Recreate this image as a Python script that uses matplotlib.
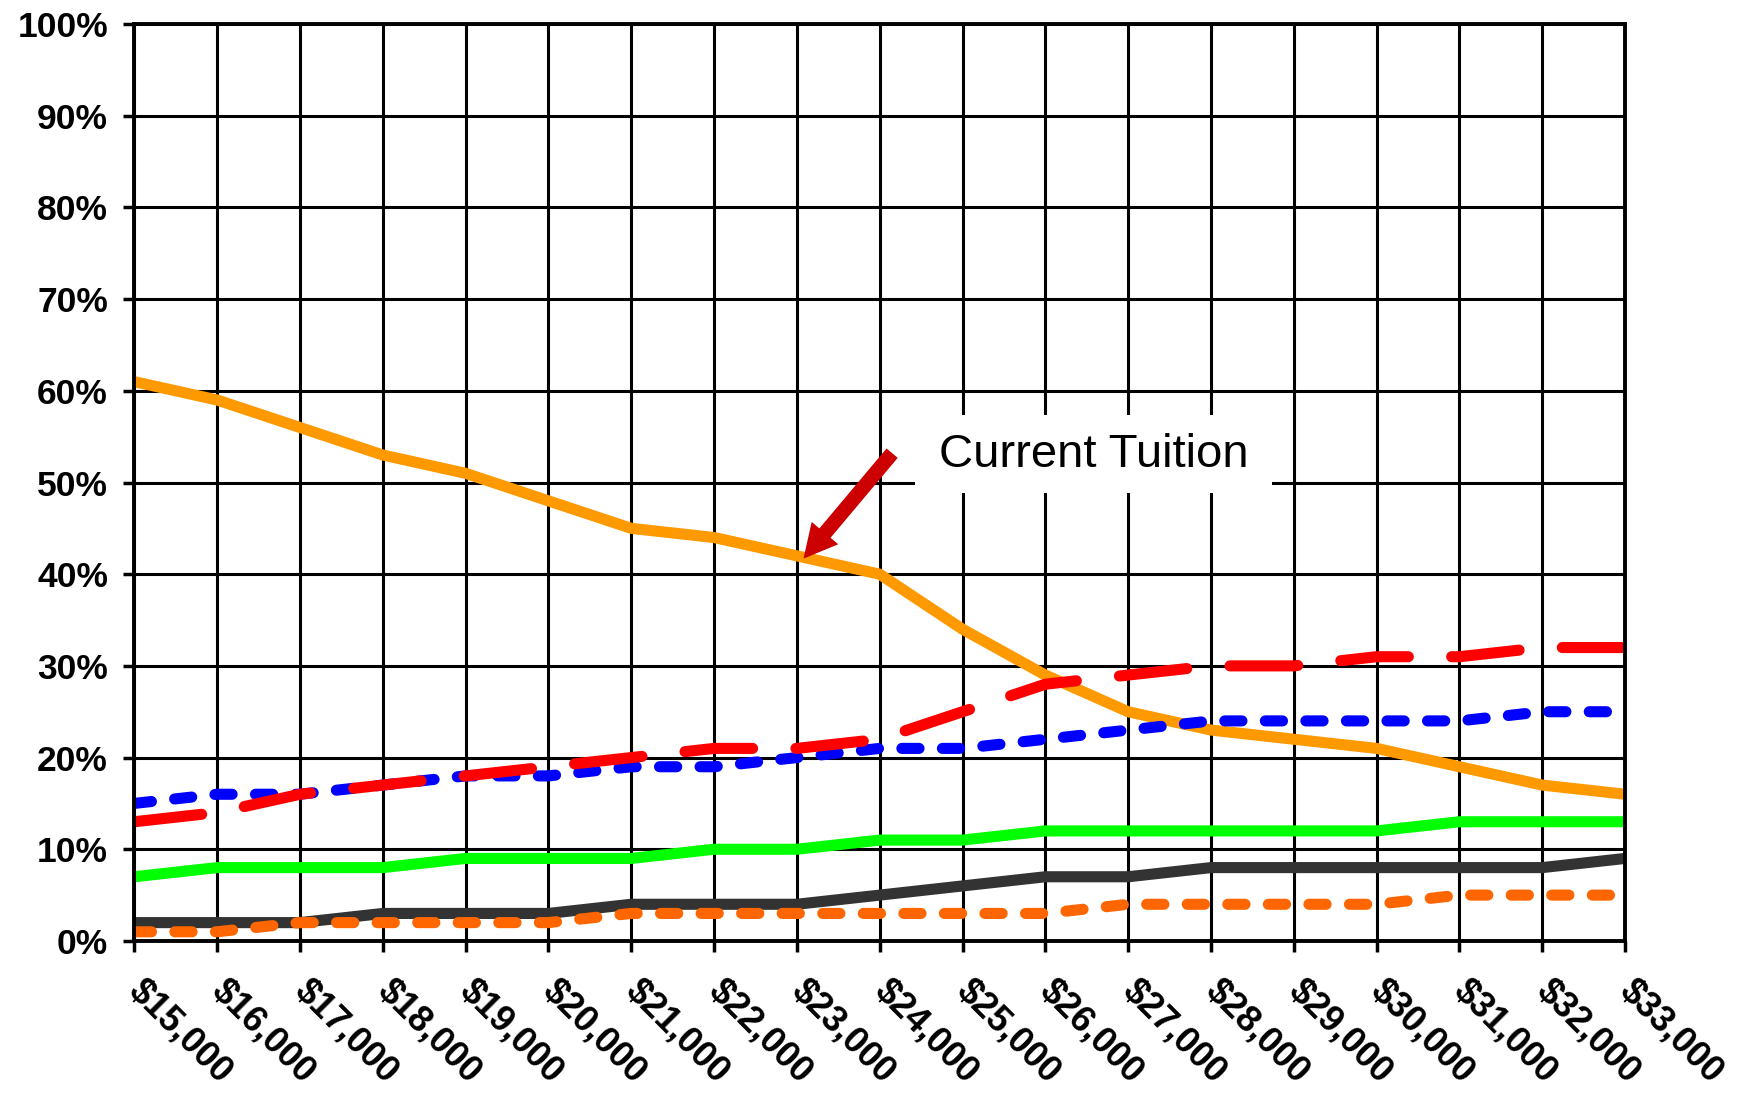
import matplotlib.pyplot as plt
import numpy as np

# tuition levels on the x axis
tuition = ['$15,000', '$16,000', '$17,000', '$18,000', '$19,000', '$20,000',
           '$21,000', '$22,000', '$23,000', '$24,000', '$25,000', '$26,000',
           '$27,000', '$28,000', '$29,000', '$30,000', '$31,000', '$32,000',
           '$33,000']

# percent values per series
orange_solid = [61, 59, 56, 53, 51, 48, 45, 44, 42, 40, 34, 29, 25, 23, 22, 21, 19, 17, 16]
red_dash = [13, 14, 16, 17, 18, 19, 20, 21, 21, 22, 25, 28, 29, 30, 30, 31, 31, 32, 32]
blue_dash = [15, 16, 16, 17, 18, 18, 19, 19, 20, 21, 21, 22, 23, 24, 24, 24, 24, 25, 25]
green_solid = [7, 8, 8, 8, 9, 9, 9, 10, 10, 11, 11, 12, 12, 12, 12, 12, 13, 13, 13]
dark_solid = [2, 2, 2, 3, 3, 3, 4, 4, 4, 5, 6, 7, 7, 8, 8, 8, 8, 8, 9]
orange_dash = [1, 1, 2, 2, 2, 2, 3, 3, 3, 3, 3, 3, 4, 4, 4, 4, 5, 5, 5]

y_ticks = list(range(0, 101, 10))
y_labels = ['%d%%' % v for v in y_ticks]

plt.rcParams['font.family'] = ['Liberation Sans', 'DejaVu Sans']

fig = plt.figure(figsize=(17.42, 10.94), dpi=100)
ax = fig.add_axes([0.0771, 0.1399, 0.8558, 0.8381])

x = np.arange(len(tuition))
lw = 8.0

ax.plot(x, dark_solid, color='#333333', lw=lw, solid_capstyle='butt', zorder=3)
ax.plot(x, orange_dash, color='#FF6600', lw=lw, dashes=(1.55, 2.1),
        dash_capstyle='round', zorder=3)
ax.plot(x, green_solid, color='#00FF00', lw=lw, solid_capstyle='butt', zorder=3)
ax.plot(x, orange_solid, color='#FF9900', lw=lw, solid_capstyle='butt', zorder=3)
ax.plot(x, blue_dash, color='#0000FF', lw=lw, dashes=(1.55, 2.1),
        dash_capstyle='round', zorder=3)
ax.plot(x, red_dash, color='#FF0000', lw=lw, dashes=(6.1, 3.9),
        dash_capstyle='round', zorder=3)

ax.set_xlim(0, len(tuition) - 1)
ax.set_ylim(0, 100)
ax.set_xticks(x)
ax.set_xticklabels(tuition, fontsize=26, fontweight='bold')
ax.set_yticks(y_ticks)
ax.set_yticklabels(y_labels, fontsize=25.5, fontweight='bold')
ax.grid(True, color='black', lw=2.2, zorder=1)
ax.set_axisbelow(True)
for s in ax.spines.values():
    s.set_linewidth(2.8)
    s.set_zorder(4)
ax.tick_params(axis='both', direction='out', length=8, width=2.5, color='black')
ax.tick_params(axis='y', pad=11)
ax.tick_params(axis='x', pad=24)
for lab in ax.get_xticklabels():
    lab.set_rotation(-45)
    lab.set_rotation_mode('anchor')
    lab.set_ha('left')
    lab.set_va('center')

# callout box + arrow
ax.add_patch(plt.Rectangle((9.43, 48.9), 4.31, 8.5, facecolor='white',
                           edgecolor='none', zorder=2))
ax.text(11.58, 53.0, 'Current Tuition', fontsize=34, ha='center', va='center', zorder=5)
ax.annotate('', xy=(8.08, 41.7), xytext=(9.15, 53.2),
            arrowprops=dict(facecolor='#CC0000', edgecolor='none', width=10.5,
                            headwidth=25, headlength=24, shrink=0), zorder=5)

fig.savefig('out.png', dpi=100)
